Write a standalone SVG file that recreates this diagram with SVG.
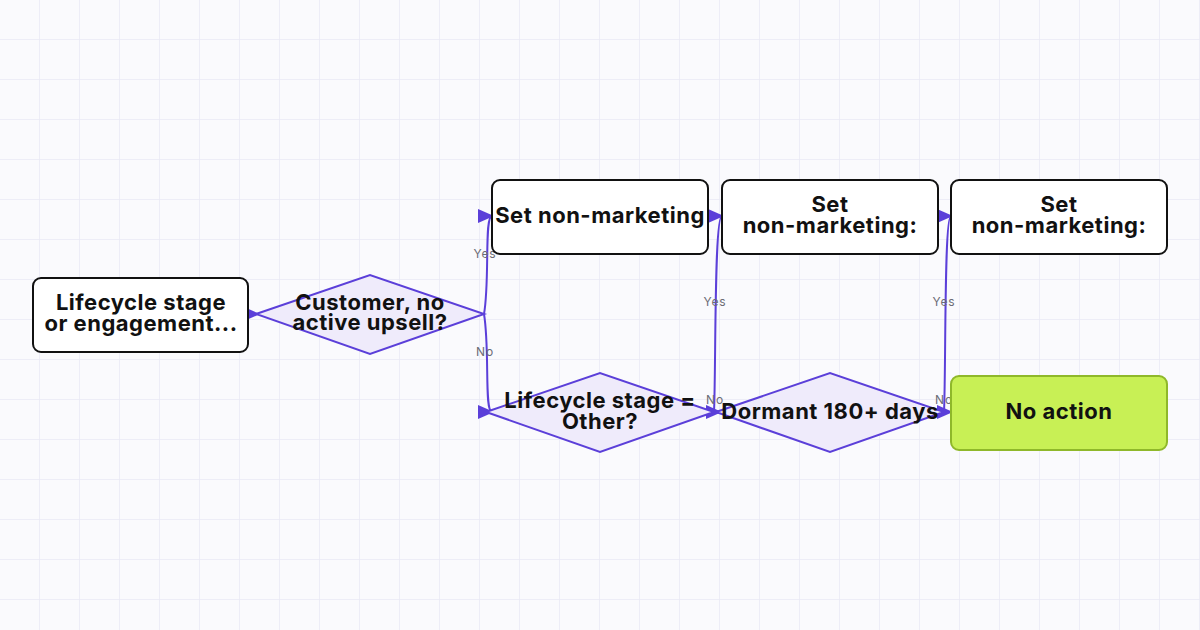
<svg xmlns="http://www.w3.org/2000/svg" width="1200" height="630" viewBox="0 0 1200 630">
<defs>
<pattern id="grid" width="40" height="40" patternUnits="userSpaceOnUse"><path d="M40 0V40M0 40H40" fill="none" stroke="#e9e9f5" stroke-width="1.5"/></pattern>
<marker id="ah" viewBox="0 0 16 14" refX="14" refY="7" markerWidth="16" markerHeight="14" orient="auto" markerUnits="userSpaceOnUse"><path d="M0 0 L16 7 L0 14 z" fill="#5b3fd9"/></marker>
</defs>
<style>
.box{fill:#fff;stroke:#111;stroke-width:2}
.dia{fill:#efebfb;stroke:#5b3fd9;stroke-width:2}
.t{font-family:Inter,"Noto Sans",sans-serif;font-weight:700;font-size:22px;letter-spacing:0.5px;fill:#111;text-anchor:middle}
.e{fill:none;stroke:#5b3fd9;stroke-width:2;marker-end:url(#ah)}
.l{font-family:Inter,"Noto Sans",sans-serif;font-size:12px;letter-spacing:0.8px;fill:#6b6b75;text-anchor:middle}
</style>
<rect width="1200" height="630" fill="#fafafd"/>
<rect x="-1" y="-1" width="1202" height="632" fill="url(#grid)"/>
<g id="connectors">
<path class="e" d="M249 314 L258 314"/>
<path class="e" d="M484 314 C490 280 484 216 492 216"/>
<path class="e" d="M484 314 C490 350 484 412 492 412"/>
<path class="e" d="M714 412 C716 370 714 216 722 216"/>
<path class="e" d="M708 412 L720 412"/>
<path class="e" d="M944 412 C946 370 944 216 951 216"/>
<path class="e" d="M938 412 L951 412"/>
<text class="l" x="485" y="258">Yes</text>
<text class="l" x="485" y="356">No</text>
<text class="l" x="715" y="306">Yes</text>
<text class="l" x="715" y="404">No</text>
<text class="l" x="944" y="306">Yes</text>
<text class="l" x="944" y="404">No</text>
</g>
<g id="n1"><rect class="box" x="33" y="278" width="215" height="74" rx="8"/><text class="t" x="141" y="310">Lifecycle stage</text><text class="t" x="141" y="331">or engagement...</text></g>
<g id="d1"><polygon class="dia" points="256,314 370,275 484,314 370,354"/><text class="t" x="370" y="310">Customer, no</text><text class="t" x="370" y="330">active upsell?</text></g>
<g id="b1"><rect class="box" x="492" y="180" width="216" height="74" rx="8"/><text class="t" x="600" y="223">Set non-marketing</text></g>
<g id="b2"><rect class="box" x="722" y="180" width="216" height="74" rx="8"/><text class="t" x="830" y="212">Set</text><text class="t" x="830" y="233">non-marketing:</text></g>
<g id="b3"><rect class="box" x="951" y="180" width="216" height="74" rx="8"/><text class="t" x="1059" y="212">Set</text><text class="t" x="1059" y="233">non-marketing:</text></g>
<g id="d2"><polygon class="dia" points="486,412 600,373 714,412 600,452"/><text class="t" x="600" y="408">Lifecycle stage =</text><text class="t" x="600" y="429">Other?</text></g>
<g id="d3"><polygon class="dia" points="716,412 830,373 944,412 830,452"/><text class="t" x="830" y="419">Dormant 180+ days</text></g>
<g id="g1"><rect x="951" y="376" width="216" height="74" rx="8" fill="#c8f055" stroke="#8fb82a" stroke-width="2"/><text class="t" x="1059" y="419">No action</text></g>
</svg>
